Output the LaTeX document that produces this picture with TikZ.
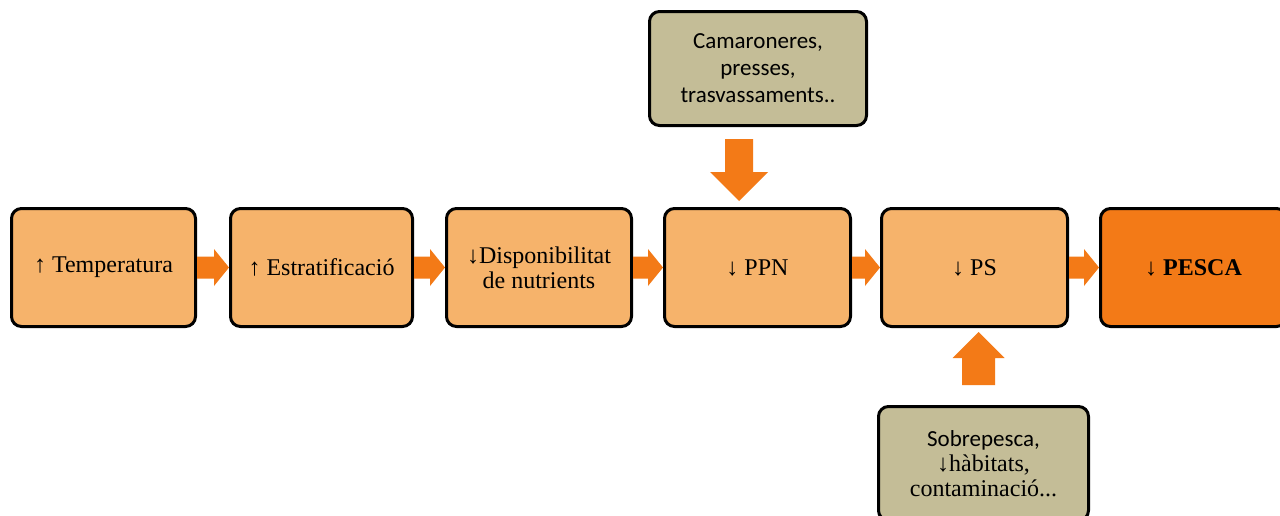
\documentclass[tikz,border=0pt]{standalone}
\usepackage{fontspec}
\setmainfont{Liberation Serif}
\newfontfamily\calibrifont{Carlito}
\usetikzlibrary{calc}
\definecolor{lightor}{HTML}{F6B36B}
\definecolor{darkor}{HTML}{F37A17}
\definecolor{olivebox}{HTML}{C4BD97}
\begin{document}
\begin{tikzpicture}[x=0.5pt,y=-0.5pt,
  box/.style={draw=black, line width=1.5pt, rounded corners=5pt, fill=lightor,
    minimum height=59pt, align=center, inner sep=2pt,
    font=\fontsize{12}{12.5}\selectfont},
  darkbox/.style={box, fill=darkor},
  greybox/.style={box, fill=olivebox, minimum height=57pt},
  arrowfill/.style={fill=darkor},
  rarrow/.style={to path={([yshift=5.5pt]\tikztostart) -- ([xshift=-7.5pt,yshift=5.5pt]\tikztotarget) -- ([xshift=-7.5pt,yshift=9.25pt]\tikztotarget) -- (\tikztotarget) -- ([xshift=-7.5pt,yshift=-9.25pt]\tikztotarget) -- ([xshift=-7.5pt,yshift=-5.5pt]\tikztotarget) -- ([yshift=-5.5pt]\tikztostart) -- cycle}},
  darrow/.style={to path={([xshift=-7pt]\tikztostart) -- ([xshift=-7pt,yshift=14.5pt]\tikztotarget) -- ([xshift=-14.5pt,yshift=14.5pt]\tikztotarget) -- (\tikztotarget) -- ([xshift=14.5pt,yshift=14.5pt]\tikztotarget) -- ([xshift=7pt,yshift=14.5pt]\tikztotarget) -- ([xshift=7pt]\tikztostart) -- cycle}},
  uarrow/.style={to path={([xshift=-8.25pt]\tikztostart) -- ([xshift=-8.25pt,yshift=-13pt]\tikztotarget) -- ([xshift=-13pt,yshift=-13pt]\tikztotarget) -- (\tikztotarget) -- ([xshift=13pt,yshift=-13pt]\tikztotarget) -- ([xshift=8.25pt,yshift=-13pt]\tikztotarget) -- ([xshift=8.25pt]\tikztostart) -- cycle}}
]
\useasboundingbox (0,0) rectangle (1280,515);
\fill[white] (0,0) rectangle (1280,515);

\node[box, minimum width=92pt] (p1) at (103.5,267.5) {↑ Temperatura};
\node[box, minimum width=91pt] (p2) at (321.5,267.5) {↑ Estratificació};
\node[box, minimum width=92.5pt] (p3) at (539,267.5) {↓Disponibilitat\\de nutrients};
\node[box, minimum width=93pt] (p4) at (757.5,267.5) {↓ PPN};
\node[box, minimum width=93pt] (p5) at (974.5,267.5) {↓ PS};
\node[darkbox, minimum width=93pt] (p6) at (1193.5,267.5) {↓ \textbf{PESCA}};

\node[greybox, minimum width=108.5pt, font=\calibrifont\fontsize{11.5}{13.5}\selectfont] (top) at (758,68.5) {Camaroneres,\\presses,\\trasvassaments..};
\node[greybox, minimum width=105pt, font=\fontsize{12}{12.5}\selectfont] (bot) at (983.5,463.5) {{\calibrifont\fontsize{11.5}{12.5}\selectfont Sobrepesca,}\\↓hàbitats,\\contaminació...};

\fill[arrowfill] (p1.east) to[rarrow] (p2.west);
\fill[arrowfill] (p2.east) to[rarrow] (p3.west);
\fill[arrowfill] (p3.east) to[rarrow] (p4.west);
\fill[arrowfill] (p4.east) to[rarrow] (p5.west);
\fill[arrowfill] (p5.east) to[rarrow] (p6.west);

\coordinate (dstart) at ([xshift=-9.5pt,yshift=-6pt]top.south);
\coordinate (dend) at ([xshift=-9.25pt,yshift=3pt]p4.north);
\fill[arrowfill] (dstart) to[darrow] (dend);

\coordinate (ustart) at ([xshift=-2.5pt,yshift=10pt]bot.north);
\coordinate (uend) at ([xshift=2pt,yshift=-2pt]p5.south);
\fill[arrowfill] (ustart) to[uarrow] (uend);
\end{tikzpicture}
\end{document}
